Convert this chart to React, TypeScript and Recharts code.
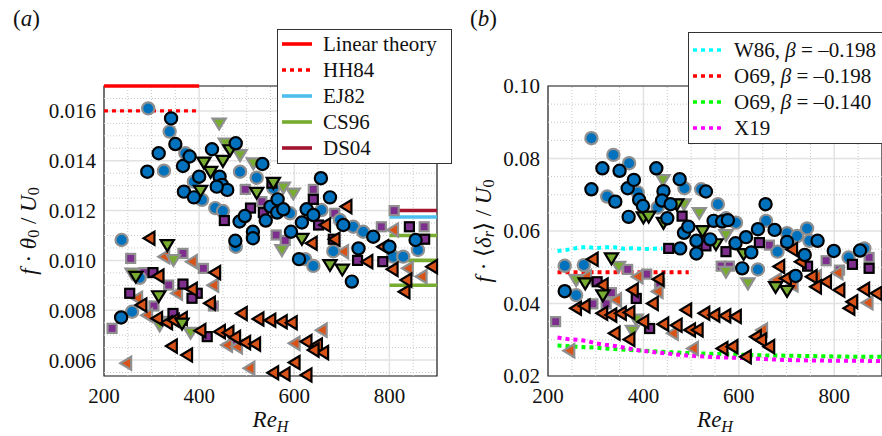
import React from 'react'
import {
  ComposedChart,
  Scatter,
  Line,
  XAxis,
  YAxis,
  CartesianGrid,
  ReferenceLine,
  ReferenceArea,
  Legend,
  Label,
} from 'recharts'

// ---- panel (a): f*theta0/U0 vs Re_H, pairs are [Re_H, value] ----
const aBlueDark = [
  [341, 0.0157], [350, 0.01467], [315, 0.0143], [291, 0.01356], [366, 0.01379], [380, 0.01417],
  [427, 0.01446], [477, 0.0147], [400, 0.01336], [368, 0.01276], [389, 0.01253], [443, 0.01336],
  [448, 0.01303], [459, 0.01283], [437, 0.01296], [533, 0.01387], [476, 0.01079], [485, 0.01156],
  [496, 0.01178], [513, 0.01115], [513, 0.01089], [540, 0.0116], [550, 0.01216], [565, 0.01245],
  [564, 0.01192], [577, 0.01205], [593, 0.01115], [616, 0.01152], [626, 0.01205], [640, 0.01182],
  [656, 0.0133], [675, 0.01253], [610, 0.01005], [703, 0.01142], [735, 0.01048], [721, 0.00915],
  [766, 0.01095], [800, 0.01055], [855, 0.01082], [236, 0.00771],
]
const aBlueGray = [
  [293, 0.0161], [338, 0.01517], [326, 0.0136], [371, 0.0143], [389, 0.01316], [406, 0.01243],
  [434, 0.0121], [450, 0.01198], [486, 0.01356], [521, 0.01332], [556, 0.0129], [591, 0.01189],
  [657, 0.01202], [623, 0.01005], [640, 0.00978], [682, 0.01037], [696, 0.01162], [724, 0.01135],
  [745, 0.01115], [808, 0.01015], [829, 0.01015], [860, 0.01042], [477, 0.01055], [237, 0.01082],
  [259, 0.00794], [275, 0.0093],
]
const aGreenDark = [
  [333, 0.01062], [315, 0.00857], [410, 0.01393], [424, 0.01356], [450, 0.014], [465, 0.01443],
  [521, 0.01272], [403, 0.0128], [556, 0.01312], [616, 0.01087], [675, 0.00982], [701, 0.00964],
  [364, 0.00747], [267, 0.00935],
]
const aGreenGray = [
  [442, 0.0155], [455, 0.0147], [486, 0.01423], [514, 0.0139], [598, 0.01269], [577, 0.01293],
  [574, 0.01042], [346, 0.01002], [317, 0.0074], [259, 0.00948], [382, 0.0071], [339, 0.00754],
]
const aPurpleDark = [
  [254, 0.00868], [303, 0.00951], [366, 0.00905], [396, 0.00868], [385, 0.00848], [345, 0.00787],
  [453, 0.0116], [508, 0.0121], [553, 0.0131], [640, 0.01245], [651, 0.01142], [682, 0.01085],
  [733, 0.01], [786, 0.00995], [842, 0.01135], [874, 0.01085], [417, 0.00694], [535, 0.01192],
]
const aPurpleGray = [
  [217, 0.00727], [256, 0.01008], [284, 0.00951], [305, 0.00817], [336, 0.00901], [366, 0.01028],
  [409, 0.00968], [430, 0.00817], [497, 0.01285], [532, 0.01236], [562, 0.01102], [581, 0.0108],
  [640, 0.01285], [685, 0.01189], [783, 0.01135], [810, 0.012], [873, 0.01135], [472, 0.0068],
]
const aOrangeDark = [
  [296, 0.01089], [279, 0.00821], [315, 0.00937], [312, 0.00767], [333, 0.0075], [347, 0.0076],
  [364, 0.00767], [343, 0.00656], [375, 0.0062], [385, 0.00884], [434, 0.00951], [423, 0.00828],
  [403, 0.00718], [444, 0.00714], [462, 0.0071], [476, 0.00691], [497, 0.0067], [518, 0.00664],
  [490, 0.00787], [525, 0.00765], [550, 0.0076], [574, 0.00754], [595, 0.0075], [556, 0.00549],
  [580, 0.00544], [601, 0.0059], [626, 0.0054], [626, 0.00674], [648, 0.0066], [661, 0.0063],
  [641, 0.0064], [665, 0.01142], [637, 0.01069], [710, 0.01216], [685, 0.01085], [754, 0.00995],
  [807, 0.00964], [832, 0.00874], [836, 0.00921], [890, 0.00975], [787, 0.01055],
]
const aOrangeGray = [
  [247, 0.00587], [327, 0.01015], [354, 0.00868], [385, 0.00995], [430, 0.009], [459, 0.0066],
  [480, 0.00653], [506, 0.00567], [658, 0.0072], [601, 0.00667], [703, 0.01035], [808, 0.01122],
  [839, 0.00968], [868, 0.00935], [270, 0.00848], [291, 0.0078],
]

// theory / reference levels in (a)
const aTheoryRe = [200, 400]
const aLinearTheory = [0.017, 0.017]
const aHH84 = [0.016, 0.016]
const aRefRe = [800, 900]
const aEJ82 = [0.01174, 0.01174]
const aCS96Levels = [0.011, 0.01, 0.009]
const aDS04 = [0.012, 0.012]

const aXTicks = [200, 400, 600, 800]
const aYTicks = [0.006, 0.008, 0.01, 0.012, 0.014, 0.016]
const aXMinor = [250, 300, 350, 450, 500, 550, 650, 700, 750, 850]
const aYMinor = [0.0055, 0.0065, 0.007, 0.0075, 0.0085, 0.009, 0.0095, 0.0105, 0.011, 0.0115,
  0.0125, 0.013, 0.0135, 0.0145, 0.015, 0.0155, 0.0165]
const aLegendLabels = ['Linear theory', 'HH84', 'EJ82', 'CS96', 'DS04']

// ---- panel (b): f*<delta_r>/U0 vs Re_H ----
const bBlueDark = [
  [291, 0.0715], [314, 0.0773], [341, 0.0681], [350, 0.0766], [369, 0.0639], [367, 0.0718],
  [380, 0.0741], [391, 0.0686], [399, 0.0669], [427, 0.0773], [442, 0.071], [439, 0.0684],
  [457, 0.0674], [450, 0.0635], [476, 0.0743], [485, 0.0595], [494, 0.0612], [477, 0.0552],
  [511, 0.0573], [511, 0.0538], [531, 0.0709], [540, 0.0577], [547, 0.0628], [565, 0.0626],
  [577, 0.063], [593, 0.0566], [607, 0.0497], [615, 0.0583], [626, 0.0541], [640, 0.0605],
  [656, 0.0674], [675, 0.0603], [701, 0.057], [719, 0.0476], [738, 0.0534], [765, 0.0573],
  [799, 0.0545], [854, 0.0546], [235, 0.0434],
]
const bBlueGray = [
  [291, 0.0856], [337, 0.081], [370, 0.0787], [324, 0.0695], [388, 0.0706], [430, 0.0665],
  [486, 0.0718], [521, 0.0715], [556, 0.0674], [594, 0.0623], [573, 0.0635], [657, 0.0628],
  [681, 0.0543], [701, 0.0594], [722, 0.0586], [743, 0.0607], [748, 0.0573], [830, 0.0527],
  [863, 0.0552], [640, 0.0494], [235, 0.0504], [275, 0.0506], [259, 0.0423],
]
const bGreenDark = [
  [333, 0.0525], [278, 0.0456], [315, 0.0423], [400, 0.0638], [411, 0.064], [442, 0.0623],
  [470, 0.0674], [524, 0.06], [552, 0.0564], [677, 0.0446], [701, 0.0435], [610, 0.0537],
]
const bGreenGray = [
  [441, 0.0741], [485, 0.0674], [517, 0.065], [573, 0.0589], [573, 0.0488], [619, 0.0456],
  [259, 0.0465], [348, 0.0502], [385, 0.0356], [377, 0.0325],
]
const bPurpleDark = [
  [453, 0.0552], [481, 0.0641], [531, 0.0559], [573, 0.0543], [643, 0.0568], [744, 0.0503],
  [838, 0.0508], [873, 0.0497], [303, 0.046], [385, 0.0414], [413, 0.0331],
]
const bPurpleGray = [
  [216, 0.035], [294, 0.0399], [322, 0.0399], [333, 0.043], [367, 0.0494], [407, 0.0481],
  [434, 0.0456], [563, 0.0503], [580, 0.0503], [664, 0.0561], [783, 0.0518], [811, 0.0492],
  [873, 0.0527],
]
const bOrangeDark = [
  [259, 0.0387], [277, 0.0393], [314, 0.0373], [333, 0.0368], [353, 0.0373], [371, 0.0375],
  [315, 0.0451], [378, 0.0437], [432, 0.0467], [420, 0.04], [400, 0.035], [340, 0.0318],
  [371, 0.0301], [442, 0.0343], [470, 0.034], [490, 0.0382], [498, 0.0327], [514, 0.0327],
  [528, 0.0373], [549, 0.0368], [572, 0.0366], [594, 0.0364], [566, 0.0276], [587, 0.0281],
  [615, 0.0253], [636, 0.0308], [647, 0.0299], [664, 0.0281], [685, 0.0502], [712, 0.0549],
  [730, 0.0515], [753, 0.0474], [783, 0.046], [811, 0.0437], [832, 0.0387], [838, 0.0405],
  [863, 0.0439], [889, 0.0428], [294, 0.0522], [762, 0.0446], [699, 0.0469],
]
const bOrangeGray = [
  [245, 0.027], [280, 0.0474], [343, 0.041], [388, 0.0474], [430, 0.0433], [504, 0.0276],
  [649, 0.0327], [678, 0.0465], [762, 0.0474], [807, 0.0485], [870, 0.0402], [462, 0.0318],
  [713, 0.0451],
]

// model curves in (b)
const bW86Re = [220, 240, 260, 280, 300, 320, 340, 360, 380, 400, 420, 440]
const bW86 = [0.0545, 0.0548, 0.0553, 0.0556, 0.0553, 0.0555, 0.0555, 0.0551, 0.0553, 0.055, 0.0551, 0.0552]
const bO69aRe = [220, 495]
const bO69a = [0.0486, 0.0486]
const bO69bRe = [220, 260, 300, 350, 400, 450, 500, 550, 600, 650, 700, 750, 800, 850, 900]
const bO69b = [0.0284, 0.0281, 0.0278, 0.0273, 0.027, 0.0266, 0.0263, 0.0261, 0.0259, 0.0257,
  0.0256, 0.0255, 0.0254, 0.0253, 0.0253]
const bX19Re = [220, 240, 260, 280, 300, 320, 340, 360, 380, 400, 420, 450, 480, 500, 550, 600,
  650, 700, 750, 800, 850, 900]
const bX19 = [0.0306, 0.0302, 0.03, 0.0297, 0.029, 0.0286, 0.0283, 0.0278, 0.0273, 0.0269, 0.0266,
  0.0262, 0.0258, 0.0256, 0.0252, 0.025, 0.0247, 0.0244, 0.0243, 0.0242, 0.0242, 0.0241]

const bXTicks = [200, 400, 600, 800]
const bYTicks = [0.02, 0.04, 0.06, 0.08, 0.1]
const bXMinor = [250, 300, 350, 450, 500, 550, 650, 700, 750, 850]
const bYMinor = [0.025, 0.03, 0.035, 0.045, 0.05, 0.055, 0.065, 0.07, 0.075, 0.085, 0.09, 0.095]
const bLegendLabels = ['W86, β = –0.198', 'O69, β = –0.198', 'O69, β = –0.140', 'X19']

const FONT = 'Liberation Serif'
const BLUE = '#0072BD'
const GREEN = '#77AC30'
const PURPLE = '#7E2F8E'
const ORANGE = '#D95319'
const DARK = '#000000'
const GRAY = '#8f8f8f'

const toPts = (arr: number[][]) => arr.map(([x, y]) => ({ x, y }))
const zipPts = (xs: number[], ys: number[]) => xs.map((x, i) => ({ x, y: ys[i] }))

type Kind = 'circle' | 'square' | 'down' | 'left'

const marker = (kind: Kind, fill: string, edge: string) => (props: any) => {
  const { cx, cy } = props
  if (cx == null || cy == null) return <g />
  const sw = 2.2
  if (kind === 'circle') {
    return <circle cx={cx} cy={cy} r={6.1} fill={fill} stroke={edge} strokeWidth={sw} />
  }
  if (kind === 'square') {
    const h = 4.5
    return <rect x={cx - h} y={cy - h} width={2 * h} height={2 * h} fill={fill} stroke={edge} strokeWidth={sw} />
  }
  if (kind === 'down') {
    const pts = `${cx - 6.6},${cy - 4.8} ${cx + 6.6},${cy - 4.8} ${cx},${cy + 6.1}`
    return <polygon points={pts} fill={fill} stroke={edge} strokeWidth={sw} strokeLinejoin="miter" />
  }
  const pts = `${cx + 4.8},${cy - 6.6} ${cx + 4.8},${cy + 6.6} ${cx - 6.1},${cy}`
  return <polygon points={pts} fill={fill} stroke={edge} strokeWidth={sw} strokeLinejoin="miter" />
}

const scatterSet = (
  groups: { data: number[][]; kind: Kind; fill: string; edge: string; key: string }[],
) =>
  groups.map((g) => (
    <Scatter
      key={g.key}
      data={toPts(g.data)}
      dataKey="y"
      shape={marker(g.kind, g.fill, g.edge)}
      isAnimationActive={false}
    />
  ))

const tickStyle = { fontFamily: FONT, fontSize: 21, fill: '#111' }

const XLabel = (props: any) => {
  const { viewBox } = props
  const x = viewBox.x + viewBox.width / 2
  const y = viewBox.y + 51
  return (
    <text x={x} y={y} textAnchor="middle" fontFamily={FONT} fontSize={23} fill="#111">
      <tspan fontStyle="italic">Re</tspan>
      <tspan fontStyle="italic" fontSize={16} dy={5}>H</tspan>
    </text>
  )
}

const YLabelA = (props: any) => {
  const { viewBox } = props
  const x = viewBox.x + 28
  const y = viewBox.y + viewBox.height / 2
  return (
    <text x={x} y={y} transform={`rotate(-90 ${x} ${y})`} textAnchor="middle" fontFamily={FONT}
      fontSize={23} fill="#111" dominantBaseline="central">
      <tspan fontStyle="italic">f</tspan>
      <tspan> · </tspan>
      <tspan fontStyle="italic">θ</tspan>
      <tspan fontSize={16} dy={5}>0</tspan>
      <tspan dy={-5}> / </tspan>
      <tspan fontStyle="italic">U</tspan>
      <tspan fontSize={16} dy={5}>0</tspan>
    </text>
  )
}

const YLabelB = (props: any) => {
  const { viewBox } = props
  const x = viewBox.x + 43
  const y = viewBox.y + viewBox.height / 2
  return (
    <text x={x} y={y} transform={`rotate(-90 ${x} ${y})`} textAnchor="middle" fontFamily={FONT}
      fontSize={23} fill="#111" dominantBaseline="central">
      <tspan fontStyle="italic">f</tspan>
      <tspan> · ⟨</tspan>
      <tspan fontStyle="italic">δ</tspan>
      <tspan fontStyle="italic" fontSize={16} dy={5}>r</tspan>
      <tspan dy={-5}>⟩ / </tspan>
      <tspan fontStyle="italic">U</tspan>
      <tspan fontSize={16} dy={5}>0</tspan>
    </text>
  )
}

const withBeta = (s: string) => {
  const parts = s.split('β')
  return parts.map((p, i) => (
    <React.Fragment key={i}>
      {i > 0 && <i>β</i>}
      {p}
    </React.Fragment>
  ))
}

type Swatch = { color: string; dashed: boolean }

const LegendBox = ({ labels, swatches, padTop }: { labels: string[]; swatches: Swatch[]; padTop: number }) => (
  <div
    style={{
      background: '#fff',
      border: '1.2px solid #333',
      fontFamily: FONT,
      fontSize: 21,
      color: '#111',
      paddingTop: padTop,
      paddingBottom: 2,
      whiteSpace: 'nowrap',
      boxSizing: 'border-box',
    }}
  >
    {labels.map((label, i) => (
      <div key={label + i} style={{ display: 'flex', alignItems: 'center', height: 26 }}>
        <svg width={30} height={8} style={{ marginLeft: 4, marginRight: 11 }}>
          <line x1={0} y1={4} x2={30} y2={4} stroke={swatches[i].color} strokeWidth={3.6}
            strokeDasharray={swatches[i].dashed ? '4 4' : undefined} />
        </svg>
        <span>{withBeta(label)}</span>
      </div>
    ))}
  </div>
)

const minorLines = (xs: number[], ys: number[]) => [
  ...xs.map((v) => (
    <ReferenceLine key={'mx' + v} x={v} stroke="#c8c8c8" strokeWidth={1} strokeDasharray="1 2" />
  )),
  ...ys.map((v) => (
    <ReferenceLine key={'my' + v} y={v} stroke="#c8c8c8" strokeWidth={1} strokeDasharray="1 2" />
  )),
]

const PanelA = () => {
  const yMin = 0.00536
  const yMax = 0.017
  return (
    <ComposedChart width={452} height={436} margin={{ top: 86, right: 15, bottom: 20, left: 0 }}>
      {minorLines(aXMinor, aYMinor)}
      <CartesianGrid stroke="#e2e2e2" strokeWidth={1.5} />
      <XAxis type="number" dataKey="x" domain={[200, 900]} ticks={aXTicks} height={40}
        tick={tickStyle} tickLine={false} axisLine={false} tickMargin={6}>
        <Label content={<XLabel />} />
      </XAxis>
      <YAxis type="number" dataKey="y" domain={[yMin, yMax]} ticks={aYTicks} width={104}
        tick={tickStyle} tickLine={false} axisLine={false} tickFormatter={(v: number) => v.toFixed(3)}>
        <Label content={<YLabelA />} />
      </YAxis>
      <ReferenceArea x1={200} x2={900} y1={yMin} y2={yMax} fill="none" stroke="#262626" strokeWidth={1.2} />
      {scatterSet([
        { key: 'ap2', data: aPurpleGray, kind: 'square', fill: PURPLE, edge: GRAY },
        { key: 'ao2', data: aOrangeGray, kind: 'left', fill: ORANGE, edge: GRAY },
        { key: 'ag2', data: aGreenGray, kind: 'down', fill: GREEN, edge: GRAY },
        { key: 'ab2', data: aBlueGray, kind: 'circle', fill: BLUE, edge: GRAY },
        { key: 'ap1', data: aPurpleDark, kind: 'square', fill: PURPLE, edge: DARK },
        { key: 'ao1', data: aOrangeDark, kind: 'left', fill: ORANGE, edge: DARK },
        { key: 'ag1', data: aGreenDark, kind: 'down', fill: GREEN, edge: DARK },
        { key: 'ab1', data: aBlueDark, kind: 'circle', fill: BLUE, edge: DARK },
      ])}
      <Line data={zipPts(aTheoryRe, aLinearTheory)} dataKey="y" stroke="#ff0000" strokeWidth={3.6}
        dot={false} isAnimationActive={false} />
      <Line data={zipPts(aTheoryRe, aHH84)} dataKey="y" stroke="#ff0000" strokeWidth={3.2}
        strokeDasharray="4 4" dot={false} isAnimationActive={false} />
      <Line data={zipPts(aRefRe, aDS04)} dataKey="y" stroke="#A2142F" strokeWidth={3.6}
        dot={false} isAnimationActive={false} />
      <Line data={zipPts(aRefRe, aEJ82)} dataKey="y" stroke="#4DBEEE" strokeWidth={3.6}
        dot={false} isAnimationActive={false} />
      {aCS96Levels.map((lv) => (
        <Line key={'cs' + lv} data={zipPts(aRefRe, [lv, lv])} dataKey="y" stroke={GREEN}
          strokeWidth={3.6} dot={false} isAnimationActive={false} />
      ))}
      <Legend layout="horizontal" verticalAlign="middle" align="center"
        wrapperStyle={{ left: 277, top: 29, width: 175, height: 'auto' }}
        content={() => (
          <LegendBox padTop={1} labels={aLegendLabels} swatches={[
            { color: '#ff0000', dashed: false },
            { color: '#ff0000', dashed: true },
            { color: '#4DBEEE', dashed: false },
            { color: GREEN, dashed: false },
            { color: '#A2142F', dashed: false },
          ]} />
        )} />
    </ComposedChart>
  )
}

const PanelB = () => {
  const yMin = 0.02
  const yMax = 0.1
  return (
    <ComposedChart width={442} height={436} margin={{ top: 86, right: 0, bottom: 20, left: 0 }}>
      {minorLines(bXMinor, bYMinor)}
      <CartesianGrid stroke="#e2e2e2" strokeWidth={1.5} />
      <XAxis type="number" dataKey="x" domain={[200, 900]} ticks={bXTicks} height={40}
        tick={tickStyle} tickLine={false} axisLine={false} tickMargin={6}>
        <Label content={<XLabel />} />
      </XAxis>
      <YAxis type="number" dataKey="y" domain={[yMin, yMax]} ticks={bYTicks} width={108}
        tick={tickStyle} tickLine={false} axisLine={false} tickFormatter={(v: number) => v.toFixed(2)}>
        <Label content={<YLabelB />} />
      </YAxis>
      <ReferenceArea x1={200} x2={900} y1={yMin} y2={yMax} fill="none" stroke="#262626" strokeWidth={1.2} />
      {scatterSet([
        { key: 'bp2', data: bPurpleGray, kind: 'square', fill: PURPLE, edge: GRAY },
        { key: 'bo2', data: bOrangeGray, kind: 'left', fill: ORANGE, edge: GRAY },
        { key: 'bg2', data: bGreenGray, kind: 'down', fill: GREEN, edge: GRAY },
        { key: 'bb2', data: bBlueGray, kind: 'circle', fill: BLUE, edge: GRAY },
        { key: 'bp1', data: bPurpleDark, kind: 'square', fill: PURPLE, edge: DARK },
        { key: 'bo1', data: bOrangeDark, kind: 'left', fill: ORANGE, edge: DARK },
        { key: 'bg1', data: bGreenDark, kind: 'down', fill: GREEN, edge: DARK },
        { key: 'bb1', data: bBlueDark, kind: 'circle', fill: BLUE, edge: DARK },
      ])}
      <Line data={zipPts(bW86Re, bW86)} dataKey="y" stroke="#00ffff" strokeWidth={4}
        strokeDasharray="4 4" dot={false} isAnimationActive={false} />
      <Line data={zipPts(bO69aRe, bO69a)} dataKey="y" stroke="#ff0000" strokeWidth={4}
        strokeDasharray="4 4" dot={false} isAnimationActive={false} />
      <Line data={zipPts(bO69bRe, bO69b)} dataKey="y" stroke="#00ff00" strokeWidth={4}
        strokeDasharray="4 4" dot={false} isAnimationActive={false} />
      <Line data={zipPts(bX19Re, bX19)} dataKey="y" stroke="#ff00ff" strokeWidth={4}
        strokeDasharray="4 4" dot={false} isAnimationActive={false} />
      <Legend layout="horizontal" verticalAlign="middle" align="center"
        wrapperStyle={{ left: 248, top: 32, width: 260, height: 'auto' }}
        content={() => (
          <LegendBox padTop={4} labels={bLegendLabels} swatches={[
            { color: '#00ffff', dashed: true },
            { color: '#ff0000', dashed: true },
            { color: '#00ff00', dashed: true },
            { color: '#ff00ff', dashed: true },
          ]} />
        )} />
    </ComposedChart>
  )
}

const titleStyle: React.CSSProperties = {
  position: 'absolute',
  top: 6,
  fontFamily: FONT,
  fontSize: 23,
  color: '#111',
}

export default function App() {
  return (
    <div style={{ position: 'absolute', left: 0, top: 0, width: 882, height: 436, background: '#fff', overflow: 'hidden' }}>
      <div style={{ position: 'absolute', left: 440, top: 0 }}>
        <PanelB />
      </div>
      <div style={{ position: 'absolute', left: 0, top: 0 }}>
        <PanelA />
      </div>
      <div style={{ ...titleStyle, left: 13 }}>(<i>a</i>)</div>
      <div style={{ ...titleStyle, left: 470 }}>(<i>b</i>)</div>
    </div>
  )
}
